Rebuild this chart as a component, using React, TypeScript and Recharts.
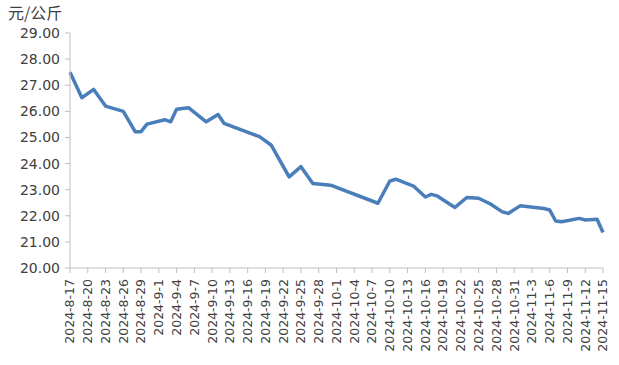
import { Line, LineChart, XAxis, YAxis } from 'recharts'

// price points (元/公斤), dates are the days where the line bends
const DATES = [
  '2024-8-17', '2024-8-19', '2024-8-21', '2024-8-23', '2024-8-26', '2024-8-28', '2024-8-29',
  '2024-8-30', '2024-9-2', '2024-9-3', '2024-9-4', '2024-9-6', '2024-9-9', '2024-9-11',
  '2024-9-12', '2024-9-18', '2024-9-20', '2024-9-23', '2024-9-25', '2024-9-27', '2024-9-30',
  '2024-10-8', '2024-10-10', '2024-10-11', '2024-10-14', '2024-10-16', '2024-10-17',
  '2024-10-18', '2024-10-21', '2024-10-23', '2024-10-25', '2024-10-27', '2024-10-29',
  '2024-10-30', '2024-11-1', '2024-11-5', '2024-11-6', '2024-11-7', '2024-11-8',
  '2024-11-11', '2024-11-12', '2024-11-14', '2024-11-15',
]
const PRICES = [
  27.5, 26.52, 26.84, 26.2, 26.0, 25.22, 25.22,
  25.51, 25.68, 25.6, 26.08, 26.14, 25.6, 25.88,
  25.54, 25.03, 24.7, 23.49, 23.88, 23.24, 23.17,
  22.48, 23.33, 23.4, 23.14, 22.72, 22.82,
  22.76, 22.32, 22.7, 22.67, 22.45, 22.15,
  22.09, 22.38, 22.28, 22.22, 21.8, 21.77,
  21.9, 21.84, 21.87, 21.36,
]

const TICK_LABELS = [
  '2024-8-17', '2024-8-20', '2024-8-23', '2024-8-26', '2024-8-29', '2024-9-1', '2024-9-4',
  '2024-9-7', '2024-9-10', '2024-9-13', '2024-9-16', '2024-9-19', '2024-9-22', '2024-9-25',
  '2024-9-28', '2024-10-1', '2024-10-4', '2024-10-7', '2024-10-10', '2024-10-13',
  '2024-10-16', '2024-10-19', '2024-10-22', '2024-10-25', '2024-10-28', '2024-10-31',
  '2024-11-3', '2024-11-6', '2024-11-9', '2024-11-12', '2024-11-15',
]
const Y_TICKS = [20, 21, 22, 23, 24, 25, 26, 27, 28, 29]

const UNIT = '元/公斤'
const LINE_COLOR = '#4a7ebb'
const TEXT_COLOR = '#404040'
const AXIS_COLOR = '#bfbfbf'

function toDay(s: string): number {
  const [y, m, d] = s.split('-').map(Number)
  const [y0, m0, d0] = DATES[0].split('-').map(Number)
  return Math.round((Date.UTC(y, m - 1, d) - Date.UTC(y0, m0 - 1, d0)) / 86400000)
}

const data = DATES.map((date, i) => ({ day: toDay(date), price: PRICES[i] }))
const tickDays = TICK_LABELS.map(toDay)
const labelByDay = new Map(TICK_LABELS.map(l => [toDay(l), l]))

function DateTick(props: { x: number; y: number; payload: { value: number } }) {
  const { x, y, payload } = props
  return (
    <text
      x={x}
      y={y}
      transform={`rotate(-90, ${x}, ${y})`}
      textAnchor="end"
      dy="0.35em"
      fontSize={12.5}
      fontFamily="DejaVu Sans, sans-serif"
      fill={TEXT_COLOR}
    >
      {labelByDay.get(payload.value) ?? ''}
    </text>
  )
}

export default function App() {
  return (
    <div style={{ position: 'absolute', left: 0, top: 0, width: 619, height: 365, background: '#fff' }}>
      <div
        style={{
          position: 'absolute',
          left: 8,
          top: 2,
          fontSize: 16,
          fontFamily: 'Noto Sans CJK SC, sans-serif',
          color: TEXT_COLOR,
          lineHeight: '20px',
        }}
      >
        {UNIT}
      </div>
      <LineChart width={619} height={365} data={data} margin={{ top: 33, right: 16, bottom: 0, left: 0 }}>
        <XAxis
          dataKey="day"
          type="number"
          domain={[0, 90]}
          ticks={tickDays}
          interval={0}
          height={97}
          tick={DateTick as any}
          tickSize={5}
          tickMargin={6}
          stroke={AXIS_COLOR}
        />
        <YAxis
          type="number"
          domain={[20, 29]}
          ticks={Y_TICKS}
          interval={0}
          width={70}
          tickFormatter={(v: number) => v.toFixed(2)}
          tick={{ fontSize: 14, fontFamily: 'DejaVu Sans, sans-serif', fill: TEXT_COLOR }}
          tickSize={5}
          tickMargin={5}
          stroke={AXIS_COLOR}
        />
        <Line
          dataKey="price"
          stroke={LINE_COLOR}
          strokeWidth={3.5}
          dot={false}
          type="linear"
          strokeLinejoin="round"
          isAnimationActive={false}
        />
      </LineChart>
    </div>
  )
}
